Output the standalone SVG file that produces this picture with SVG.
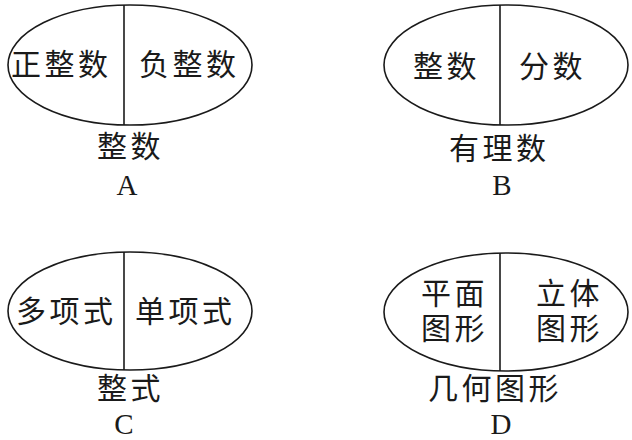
<svg xmlns="http://www.w3.org/2000/svg" width="632" height="440" viewBox="0 0 632 440">
<style>
.e{fill:none;stroke:#1a1a1a;stroke-width:1.6}
.d{stroke:#1a1a1a;stroke-width:1.6}
.t{font-family:"Noto Sans CJK SC","Noto Sans CJK TC",sans-serif;font-size:30px;fill:#1a1a1a;letter-spacing:3.5px}
.l{font-family:"Liberation Serif",serif;font-size:29px;fill:#1a1a1a;text-anchor:middle}
</style>
<rect width="632" height="440" fill="#ffffff"/>
<g id="A">
<ellipse class="e" cx="130" cy="65" rx="122" ry="60"/>
<line class="d" x1="124" y1="5" x2="124" y2="125"/>
<text class="t" x="11" y="75">正整数</text>
<text class="t" x="139" y="75">负整数</text>
<text class="t" x="97" y="157">整数</text>
<text class="l" x="127" y="195">A</text>
</g>
<g id="B">
<ellipse class="e" cx="506" cy="65" rx="122" ry="60"/>
<line class="d" x1="500" y1="5" x2="500" y2="125"/>
<text class="t" x="413" y="77">整数</text>
<text class="t" x="519" y="77">分数</text>
<text class="t" x="449" y="159">有理数</text>
<text class="l" x="502" y="195">B</text>
</g>
<g id="C">
<ellipse class="e" cx="130" cy="311" rx="122" ry="59"/>
<line class="d" x1="124" y1="252" x2="124" y2="370"/>
<text class="t" x="16" y="322">多项式</text>
<text class="t" x="135" y="322">单项式</text>
<text class="t" x="97" y="399">整式</text>
<text class="l" x="124" y="434">C</text>
</g>
<g id="D">
<ellipse class="e" cx="506" cy="312" rx="122" ry="59"/>
<line class="d" x1="500" y1="253" x2="500" y2="371"/>
<text class="t" x="421" y="304">平面<tspan x="421" y="339">图形</tspan></text>
<text class="t" x="536" y="304">立体<tspan x="536" y="339">图形</tspan></text>
<text class="t" x="428" y="399">几何图形</text>
<text class="l" x="501" y="434">D</text>
</g>
<g id="connectors"></g>
</svg>
